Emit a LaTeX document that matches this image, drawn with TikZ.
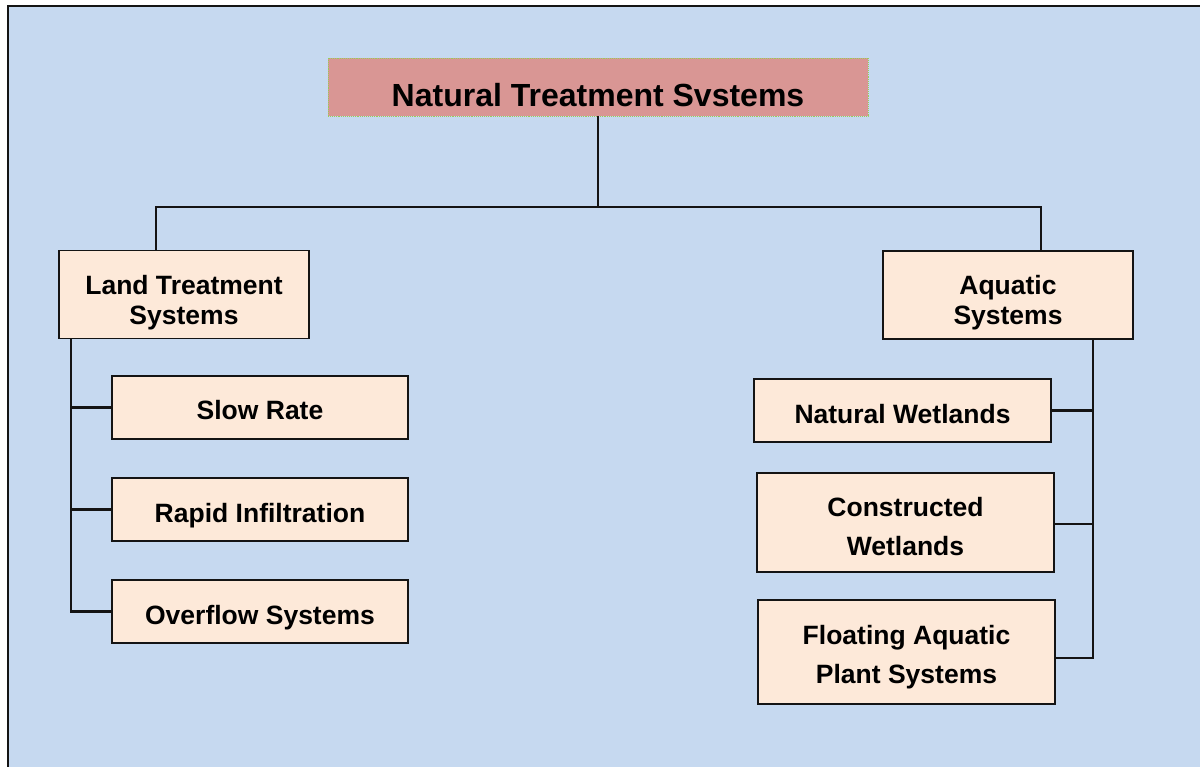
\documentclass[tikz,border=0pt]{standalone}
\usepackage{fontspec}
\setmainfont{Liberation Sans}
\definecolor{bgcol}{HTML}{C6D9F0}
\definecolor{boxfill}{HTML}{FDE9D9}
\definecolor{titlefill}{HTML}{D99694}
\definecolor{titleedge}{HTML}{9BCB59}
\definecolor{linecol}{HTML}{141414}
% raises the first line of a multi-line box to push its text down
\newcommand{\firstlift}[1]{\rule{0pt}{#1}}
\begin{document}
\begin{tikzpicture}[x=1pt,y=-1pt,
  box/.style={draw=linecol, line width=1.8pt, fill=boxfill, inner sep=0pt,
    align=center, font=\bfseries\fontsize{26.5}{30}\selectfont},
  onebox/.style={box, text height=25pt, text depth=0pt},
  tallbox/.style={box, font=\bfseries\fontsize{26.5}{39.5}\selectfont},
  titlebox/.style={draw=titleedge, densely dotted, line width=0.9pt, fill=titlefill,
    inner sep=0pt, font=\bfseries\fontsize{32}{36}\selectfont,
    text height=39pt, text depth=0pt},
  conn/.style={draw=linecol, line width=2.6pt},
  frame/.style={draw=linecol, line width=2.2pt}]
\useasboundingbox (0,0) rectangle (1200,767);
% background panel with its left and top edge
\fill[bgcol] (8,6) rectangle (1200,767);
\draw[frame] (8,767) -- (8,6) -- (1200,6);

% root
\node[titlebox, minimum width=540pt, minimum height=58pt] (root) at (598,87) {Natural Treatment Svstems};

% two main groups
\node[box, minimum width=250pt, minimum height=88pt] (land) at (184,294.5) {\firstlift{35pt}Land Treatment\\Systems};
\node[box, minimum width=250pt, minimum height=88pt] (aqua) at (1008,295) {\firstlift{35pt}Aquatic\\Systems};

% land treatment branches
\node[onebox, minimum width=296pt, minimum height=63pt] (slow) at (260,407.5) {Slow Rate};
\node[onebox, minimum width=296pt, minimum height=63pt] (rapid) at (260,509.5) {Rapid Infiltration};
\node[onebox, minimum width=296pt, minimum height=63pt] (over) at (260,611.5) {Overflow Systems};

% aquatic branches
\node[onebox, minimum width=297pt, minimum height=63pt] (natw) at (902.5,410.5) {Natural Wetlands};
\node[tallbox, minimum width=297pt, minimum height=99pt] (conw) at (905.5,522.5) {\firstlift{27pt}Constructed\\Wetlands};
\node[tallbox, minimum width=297pt, minimum height=104pt] (flo) at (906.5,652) {\firstlift{29pt}Floating Aquatic\\Plant Systems};

% bus under the root
\coordinate (ld) at (156,207);
\coordinate (rd) at (1041,207);
\draw[conn] (root.south) -- (root.south |- ld);
\draw[conn] (ld |- land.north) -- (ld) -- (rd) -- (rd |- aqua.north);

% left trunk
\coordinate (lt) at (71,0);
\draw[conn] (lt |- land.south) |- (over.west);
\draw[conn] (lt |- slow.west) -- (slow.west);
\draw[conn] (lt |- rapid.west) -- (rapid.west);

% right trunk
\coordinate (rtb) at (1093,658);
\draw[conn] (rtb |- aqua.south) -- (rtb) -- (rtb -| flo.east);
\draw[conn] (natw.east) -- (natw.east -| rtb);
\draw[conn] (conw.east) ++(0,1.5) -- (rtb |- 0,524);
\end{tikzpicture}
\end{document}
